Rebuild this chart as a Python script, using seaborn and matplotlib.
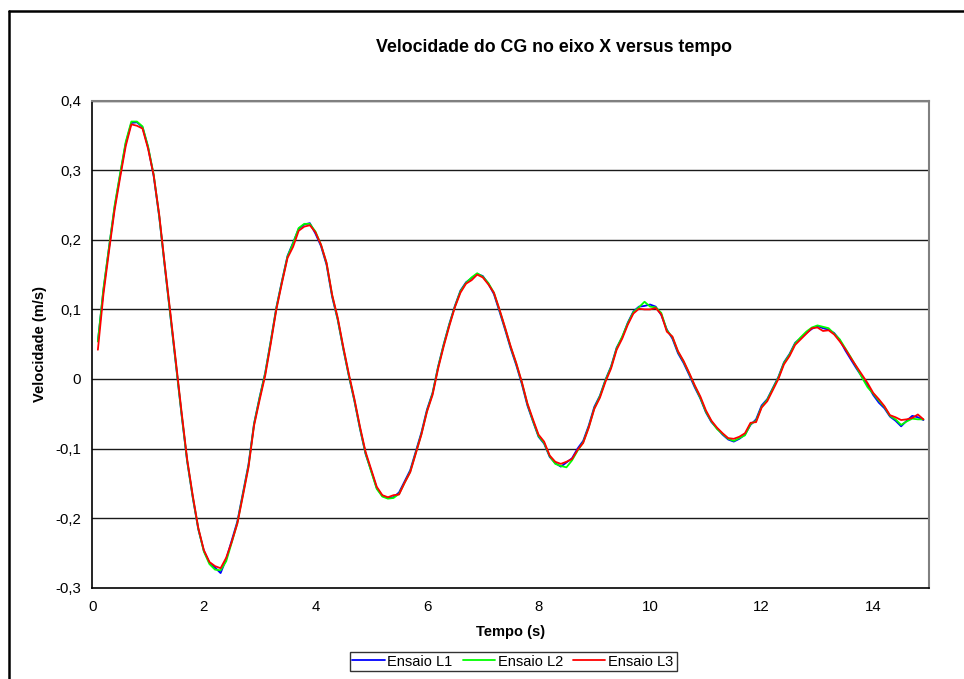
import numpy as np
import pandas as pd
import matplotlib
matplotlib.use("Agg")
import matplotlib.pyplot as plt
from matplotlib.lines import Line2D
from matplotlib.ticker import FuncFormatter
import seaborn as sns

# ---------------- data ----------------
tempo = [round(0.1 * i, 1) for i in range(1, 150)]  # 0.1 .. 14.9 s

ensaio_l3 = [
    0.042, 0.122, 0.184, 0.243, 0.290, 0.335, 0.366, 0.364, 0.360, 0.331,
    0.293, 0.236, 0.164, 0.095, 0.024, -0.047, -0.115, -0.167, -0.214, -0.246,
    -0.263, -0.269, -0.272, -0.257, -0.234, -0.208, -0.168, -0.127, -0.067, -0.030,
    0.005, 0.051, 0.100, 0.138, 0.174, 0.190, 0.213, 0.219, 0.221, 0.211,
    0.193, 0.167, 0.121, 0.088, 0.046, 0.007, -0.029, -0.069, -0.105, -0.130,
    -0.155, -0.167, -0.170, -0.167, -0.166, -0.149, -0.134, -0.107, -0.080, -0.047,
    -0.023, 0.015, 0.047, 0.076, 0.103, 0.124, 0.137, 0.142, 0.150, 0.146,
    0.136, 0.124, 0.100, 0.074, 0.047, 0.023, -0.004, -0.035, -0.058, -0.080,
    -0.090, -0.110, -0.119, -0.122, -0.119, -0.115, -0.102, -0.092, -0.070, -0.043,
    -0.027, -0.004, 0.015, 0.042, 0.058, 0.078, 0.094, 0.101, 0.100, 0.100,
    0.102, 0.093, 0.068, 0.061, 0.040, 0.026, 0.009, -0.009, -0.025, -0.045,
    -0.060, -0.070, -0.078, -0.085, -0.086, -0.083, -0.078, -0.063, -0.062, -0.041,
    -0.032, -0.016, 0.000, 0.021, 0.033, 0.049, 0.057, 0.065, 0.073, 0.074,
    0.069, 0.070, 0.064, 0.054, 0.043, 0.030, 0.018, 0.006, -0.006, -0.020,
    -0.029, -0.039, -0.052, -0.055, -0.059, -0.058, -0.056, -0.051, -0.058,
]

ensaio_l1 = [
    0.054, 0.128, 0.189, 0.247, 0.294, 0.339, 0.368, 0.369, 0.362, 0.333,
    0.292, 0.233, 0.161, 0.091, 0.020, -0.051, -0.118, -0.170, -0.216, -0.247,
    -0.264, -0.271, -0.279, -0.259, -0.232, -0.205, -0.164, -0.123, -0.064, -0.026,
    0.009, 0.055, 0.103, 0.141, 0.177, 0.196, 0.216, 0.222, 0.224, 0.209,
    0.191, 0.164, 0.118, 0.085, 0.043, 0.004, -0.032, -0.072, -0.108, -0.132,
    -0.157, -0.168, -0.171, -0.170, -0.163, -0.147, -0.131, -0.104, -0.077, -0.044,
    -0.020, 0.018, 0.050, 0.079, 0.105, 0.127, 0.139, 0.145, 0.151, 0.148,
    0.137, 0.122, 0.097, 0.071, 0.044, 0.020, -0.007, -0.038, -0.061, -0.083,
    -0.093, -0.112, -0.121, -0.126, -0.120, -0.114, -0.100, -0.089, -0.067, -0.040,
    -0.024, -0.001, 0.018, 0.045, 0.060, 0.081, 0.097, 0.104, 0.105, 0.107,
    0.104, 0.092, 0.071, 0.058, 0.037, 0.023, 0.006, -0.012, -0.028, -0.048,
    -0.062, -0.071, -0.080, -0.087, -0.090, -0.086, -0.080, -0.066, -0.058, -0.038,
    -0.029, -0.013, 0.003, 0.024, 0.036, 0.052, 0.059, 0.066, 0.072, 0.076,
    0.073, 0.071, 0.066, 0.056, 0.041, 0.028, 0.015, 0.003, -0.009, -0.023,
    -0.034, -0.042, -0.054, -0.060, -0.068, -0.060, -0.053, -0.055, -0.059,
]

ensaio_l2 = [
    0.054, 0.130, 0.190, 0.249, 0.296, 0.341, 0.370, 0.370, 0.363, 0.334,
    0.294, 0.234, 0.162, 0.092, 0.021, -0.050, -0.117, -0.169, -0.215, -0.248,
    -0.266, -0.274, -0.275, -0.262, -0.235, -0.207, -0.166, -0.125, -0.065, -0.027,
    0.008, 0.054, 0.102, 0.140, 0.176, 0.195, 0.217, 0.223, 0.223, 0.212,
    0.193, 0.166, 0.120, 0.086, 0.044, 0.005, -0.031, -0.071, -0.107, -0.133,
    -0.158, -0.169, -0.172, -0.171, -0.165, -0.149, -0.133, -0.106, -0.079, -0.046,
    -0.021, 0.017, 0.049, 0.078, 0.104, 0.126, 0.138, 0.146, 0.152, 0.147,
    0.138, 0.124, 0.099, 0.073, 0.046, 0.022, -0.005, -0.036, -0.060, -0.082,
    -0.092, -0.111, -0.122, -0.125, -0.127, -0.117, -0.103, -0.091, -0.069, -0.042,
    -0.025, -0.002, 0.017, 0.044, 0.061, 0.080, 0.096, 0.103, 0.111, 0.104,
    0.103, 0.095, 0.070, 0.060, 0.039, 0.025, 0.008, -0.010, -0.027, -0.047,
    -0.061, -0.072, -0.079, -0.086, -0.089, -0.085, -0.081, -0.065, -0.060, -0.040,
    -0.030, -0.014, 0.002, 0.023, 0.035, 0.051, 0.060, 0.068, 0.074, 0.077,
    0.075, 0.073, 0.065, 0.057, 0.044, 0.031, 0.017, 0.002, -0.012, -0.021,
    -0.031, -0.040, -0.053, -0.058, -0.066, -0.061, -0.057, -0.058, -0.058,
]

series_names = ["Ensaio L1", "Ensaio L2", "Ensaio L3"]
series_colors = ["#0000FF", "#00FF00", "#FF0000"]

y_ticks = [-0.3, -0.2, -0.1, 0.0, 0.1, 0.2, 0.3, 0.4]
x_ticks = [0, 2, 4, 6, 8, 10, 12, 14]

df = pd.DataFrame({
    "Tempo": tempo * 3,
    "Velocidade": ensaio_l1 + ensaio_l2 + ensaio_l3,
    "Ensaio": [series_names[0]] * len(tempo) + [series_names[1]] * len(tempo)
              + [series_names[2]] * len(tempo),
})

# ---------------- style ----------------
sns.set_style("white")
plt.rcParams["font.family"] = ["Liberation Sans", "DejaVu Sans"]
plt.rcParams["text.color"] = "black"
plt.rcParams["axes.labelcolor"] = "black"
plt.rcParams["xtick.color"] = "black"
plt.rcParams["ytick.color"] = "black"

W, H = 964, 679
fig = plt.figure(figsize=(W / 100, H / 100), dpi=100)
fig.patch.set_facecolor("white")

x0, x1, y0, y1 = 92.3, 929, 100.7, 587.7
ax = fig.add_axes([x0 / W, 1 - y1 / H, (x1 - x0) / W, (y1 - y0) / H])

sns.lineplot(data=df, x="Tempo", y="Velocidade", hue="Ensaio",
             hue_order=series_names, palette=dict(zip(series_names, series_colors)),
             linewidth=1.3, ax=ax, legend=False, estimator=None, sort=False)

ax.set_xlim(0, 15)
ax.set_ylim(-0.3, 0.4)
ax.set_xticks(x_ticks)
ax.set_yticks(y_ticks)

def comma(v, pos):
    s = f"{v:.1f}".replace(".", ",")
    if s in ("0,0", "-0,0"):
        s = "0"
    return s

ax.yaxis.set_major_formatter(FuncFormatter(comma))
ax.xaxis.set_major_formatter(FuncFormatter(lambda v, p: f"{int(round(v))}"))

for yv in y_ticks[1:]:
    ax.axhline(yv, color="#1a1a1a", linewidth=1.0, zorder=0)

for s in ("left", "bottom"):
    ax.spines[s].set_color("black")
    ax.spines[s].set_linewidth(1.2)
for s in ("top", "right"):
    ax.spines[s].set_color("#808080")
    ax.spines[s].set_linewidth(1.5)

ax.tick_params(axis="both", which="major", direction="out", length=4,
               width=1, color="black", labelcolor="black", labelsize=10.8, pad=5)
ax.tick_params(axis="y", pad=4)

ax.set_xlabel("Tempo (s)", fontsize=10.5, fontweight="bold", labelpad=8, color="black")
ax.set_ylabel("Velocidade (m/s)", fontsize=10.5, fontweight="bold", labelpad=6, color="black")

fig.text(554 / W, 1 - 47 / H, "Velocidade do CG no eixo X versus tempo",
         ha="center", va="center", fontsize=12.8, fontweight="bold", color="black")

handles = [Line2D([0], [0], color=c, lw=1.3) for c in series_colors]
leg = fig.legend(handles, series_names, loc="center",
                 bbox_to_anchor=(513 / W, 1 - 661.5 / H), ncol=3,
                 fontsize=10.5, frameon=True, fancybox=False, shadow=False,
                 handlelength=2.2, handletextpad=0.2, columnspacing=0.7,
                 borderpad=0.2, borderaxespad=0)
leg.get_frame().set_edgecolor("black")
leg.get_frame().set_linewidth(1.0)
for t in leg.get_texts():
    t.set_color("black")

# outer chart-area frame (cut off on right and bottom in the reference)
fig.add_artist(Line2D([8.5 / W, 8.5 / W], [0, 1 - 11 / H], transform=fig.transFigure,
                      color="black", linewidth=1.8))
fig.add_artist(Line2D([8.5 / W, 1], [1 - 11 / H, 1 - 11 / H], transform=fig.transFigure,
                      color="black", linewidth=1.8))

fig.savefig("out.png", dpi=100, facecolor="white")
